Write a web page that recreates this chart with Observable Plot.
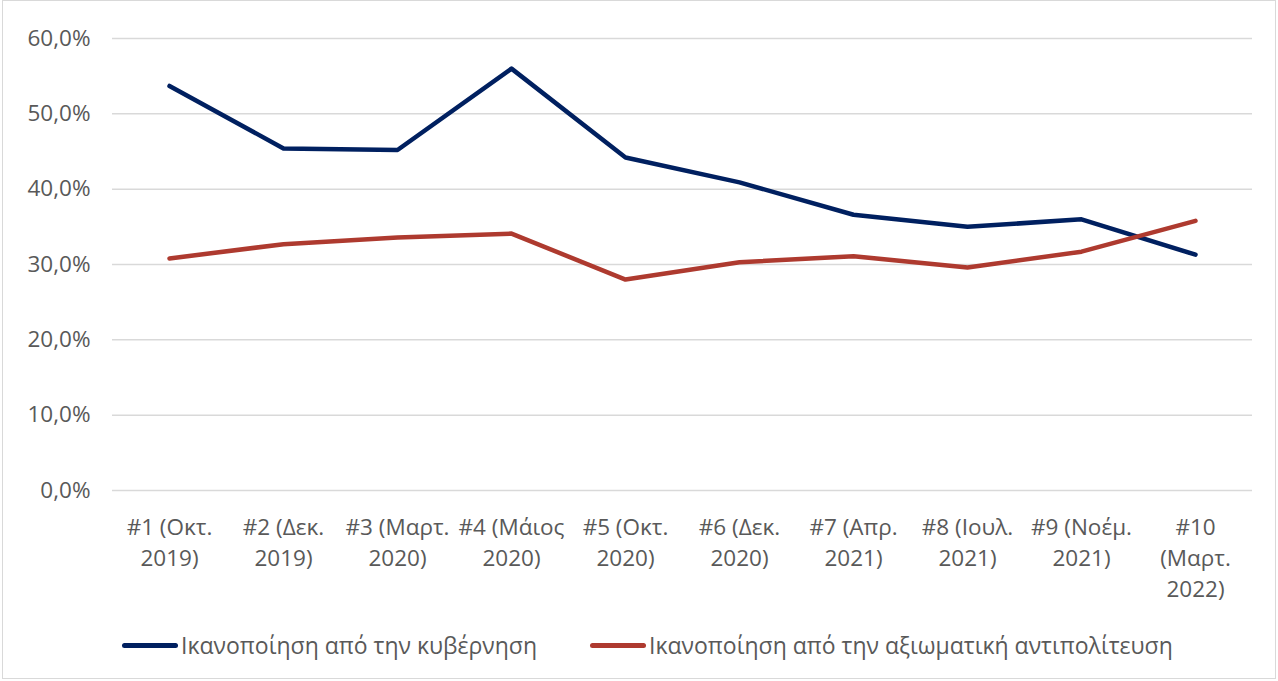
<!DOCTYPE html>
<html>
<head>
<meta charset="utf-8">
<script src="https://cdn.jsdelivr.net/npm/d3@7"></script>
<script src="https://cdn.jsdelivr.net/npm/@observablehq/plot@0.6"></script>
<style>
  html, body { margin: 0; padding: 0; background: #fff; }
  #frame { position: absolute; left: 2px; top: 0px; width: 1274px; height: 679px; border: 1px solid #d9d9d9; box-sizing: border-box; }
  #chart { position: absolute; left: 0; top: 0; }
  #legend { position: absolute; left: 0; top: 627px; width: 1278px; height: 36px; font-family: "Open Sans", "Noto Sans", sans-serif; font-size: 23px; color: #595959; }
  .item { position: absolute; top: 0; display: flex; align-items: center; height: 36px; }
  .swatch { width: 56px; height: 5px; border-radius: 3px; margin-right: 3px; }
</style>
</head>
<body>
<div id="frame"></div>
<div id="chart"></div>
<div id="legend"></div>
<script>
const categories = [
  "#1 (Οκτ.\n2019)", "#2 (Δεκ.\n2019)", "#3 (Μαρτ.\n2020)", "#4 (Μάιος\n2020)", "#5 (Οκτ.\n2020)",
  "#6 (Δεκ.\n2020)", "#7 (Απρ.\n2021)", "#8 (Ιουλ.\n2021)", "#9 (Νοέμ.\n2021)", "#10\n(Μαρτ.\n2022)"
];
const seriesNames = ["Ικανοποίηση από την κυβέρνηση", "Ικανοποίηση από την αξιωματική αντιπολίτευση"];
const government = [53.7, 45.4, 45.2, 56.0, 44.2, 40.9, 36.6, 35.0, 36.0, 31.3];
const opposition = [30.8, 32.7, 33.6, 34.1, 28.0, 30.3, 31.1, 29.6, 31.7, 35.8];
const yTicks = [0, 10, 20, 30, 40, 50, 60];
const colors = ["#002060", "#AE3A2F"];

const data = [];
categories.forEach((c, i) => {
  data.push({cat: c, value: government[i], series: seriesNames[0]});
  data.push({cat: c, value: opposition[i], series: seriesNames[1]});
});

const fmt = v => v.toFixed(1).replace(".", ",") + "%";

const chart = Plot.plot({
  width: 1278,
  height: 620,
  marginLeft: 112,
  marginRight: 26,
  marginTop: 38,
  marginBottom: 130,
  style: {fontFamily: "'Open Sans', 'Noto Sans', sans-serif", fontSize: "22.5px", color: "#595959", background: "transparent"},
  x: {type: "point", domain: categories, padding: 0.5},
  y: {domain: [0, 60]},
  color: {domain: seriesNames, range: colors},
  marks: [
    Plot.ruleY(yTicks, {stroke: "#d9d9d9", strokeWidth: 1.5}),
    Plot.axisY({ticks: yTicks, tickFormat: fmt, label: null, tickSize: 0, tickPadding: 22, fontSize: 22.5}),
    Plot.axisX({label: null, tickSize: 0, tickPadding: 22, lineHeight: 1.38, fontSize: 22.5}),
    Plot.lineY(data, {x: "cat", y: "value", z: "series", stroke: "series", strokeWidth: 4.5, strokeLinejoin: "round", strokeLinecap: "round"}),
  ]
});
document.getElementById("chart").appendChild(chart);

const legend = document.getElementById("legend");
const lefts = [122, 590];
seriesNames.forEach((n, i) => {
  const it = document.createElement("div");
  it.className = "item";
  it.style.left = lefts[i] + "px";
  const sw = document.createElement("div");
  sw.className = "swatch";
  sw.style.background = colors[i];
  const tx = document.createElement("span");
  tx.textContent = n;
  it.appendChild(sw); it.appendChild(tx);
  legend.appendChild(it);
});
</script>
</body>
</html>
